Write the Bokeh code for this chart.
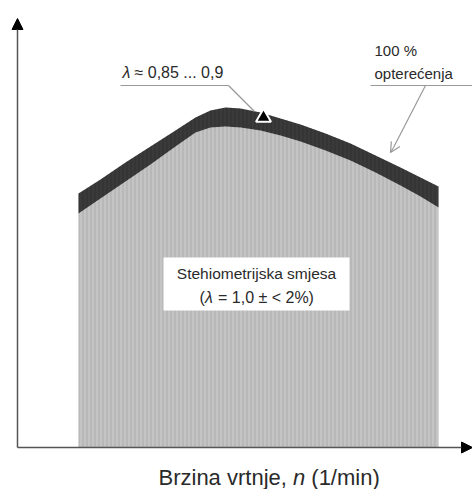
from bokeh.plotting import figure
from bokeh.models import Range1d, Arrow, NormalHead, OpenHead, Label, BoxAnnotation, ColumnDataSource
from bokeh.embed import file_html
from bokeh.resources import INLINE

# engine speed (schematic units) and load boundaries
speed = [61, 83, 108, 133, 158, 178, 193, 208, 223, 243, 263, 283, 308, 333, 358, 383, 403, 421]
full_load = [254, 268, 285, 301, 317, 330, 337, 340, 339, 335, 329, 323, 314, 304, 292, 280, 270, 261]
stoich_limit = [234, 249, 266, 283, 301, 315, 320, 321, 320, 317, 312, 306, 297, 287, 275, 262, 251, 240]
zero = [0] * len(speed)

x_title = "Brzina vrtnje,"
x_title_var = "n"
x_title_unit = "(1/min)"
label_rich = "≈ 0,85 ... 0,9"
label_full = ["100 %", "opterećenja"]
label_stoich = "Stehiometrijska smjesa"
label_stoich2 = "= 1,0 ± < 2%)"

FONT = "Liberation Sans"
TXT = "#2a2a2a"

p = figure(width=472, height=489, output_backend="svg", toolbar_location=None,
           x_range=Range1d(-17, 455), y_range=Range1d(-42, 447),
           min_border=0, outline_line_color=None)
p.axis.visible = False
p.grid.visible = False
p.background_fill_color = "white"

src = ColumnDataSource(dict(x=speed, y0=zero, y1=stoich_limit, y2=full_load))
p.varea(x="x", y1="y0", y2="y1", source=src, fill_color="#c4c4c4",
        hatch_pattern="|", hatch_color="#9a9a9a", hatch_scale=4, hatch_weight=0.8, hatch_alpha=0.7)
p.varea(x="x", y1="y1", y2="y2", source=src, fill_color="#3a3a3a",
        hatch_pattern="|", hatch_color="#262626", hatch_scale=4, hatch_weight=0.8, hatch_alpha=0.7)

# axes
p.add_layout(Arrow(end=NormalHead(size=11, fill_color="black", line_color="black"),
                   x_start=0, y_start=0, x_end=0, y_end=429, line_color="#555555", line_width=1.5))
p.add_layout(Arrow(end=NormalHead(size=11, fill_color="black", line_color="black"),
                   x_start=0, y_start=0, x_end=455, y_end=0, line_color="#555555", line_width=1.5))

# white box with text
p.add_layout(BoxAnnotation(left=146, right=332, bottom=137, top=190, fill_color="white",
                           fill_alpha=1, line_alpha=0, level="annotation"))
p.add_layout(Label(x=239, y=174, text=label_stoich, text_align="center", text_baseline="middle",
                   text_font=FONT, text_font_size="15.5px", text_color=TXT))
p.add_layout(Label(x=182, y=150, text="(", text_align="left", text_baseline="middle",
                   text_font=FONT, text_font_size="16px", text_color=TXT))
p.add_layout(Label(x=182, y=150, x_offset=5.5, text="λ", text_align="left", text_baseline="middle",
                   text_font=FONT, text_font_size="16px", text_font_style="italic", text_color=TXT))
p.add_layout(Label(x=182, y=150, x_offset=18.5, text=label_stoich2, text_align="left", text_baseline="middle",
                   text_font=FONT, text_font_size="16px", text_color=TXT))

# lambda rich label with leader
p.add_layout(Label(x=105, y=375, text="λ", text_align="left", text_baseline="middle",
                   text_font=FONT, text_font_size="16px", text_font_style="italic", text_color=TXT))
p.add_layout(Label(x=117, y=375, text=label_rich, text_align="left", text_baseline="middle",
                   text_font=FONT, text_font_size="16px", text_color=TXT))
lead = ColumnDataSource(dict(x0=[103, 211, 353, 408], y0=[362, 362, 362, 362],
                             x1=[211, 237, 455, 376], y1=[362, 336, 362, 300]))
p.segment(x0="x0", y0="y0", x1="x1", y1="y1", source=lead, line_color="#999999", line_width=1.2)
p.scatter(x=[246], y=[330], marker="triangle", size=15, fill_color="black",
          line_color="white", line_width=2)
p.add_layout(Arrow(end=OpenHead(size=10, line_color="#999999", line_width=1.2),
                   x_start=376, y_start=300, x_end=373, y_end=295, line_color="#999999", line_width=1.2))

# full load label
p.add_layout(Label(x=357, y=397, text=label_full[0], text_align="left", text_baseline="middle",
                   text_font=FONT, text_font_size="15px", text_color=TXT))
p.add_layout(Label(x=357, y=374, text=label_full[1], text_align="left", text_baseline="middle",
                   text_font=FONT, text_font_size="15px", text_color=TXT))

# x title
p.add_layout(Label(x=141, y=-30, text=x_title, text_align="left", text_baseline="middle",
                   text_font=FONT, text_font_size="22px", text_color=TXT))
p.add_layout(Label(x=141, y=-30, x_offset=134.5, text=x_title_var, text_align="left", text_baseline="middle",
                   text_font=FONT, text_font_size="22px", text_font_style="italic", text_color=TXT))
p.add_layout(Label(x=141, y=-30, x_offset=152.8, text=x_title_unit, text_align="left", text_baseline="middle",
                   text_font=FONT, text_font_size="22px", text_color=TXT))

open("out.html", "w").write(file_html(p, INLINE))
